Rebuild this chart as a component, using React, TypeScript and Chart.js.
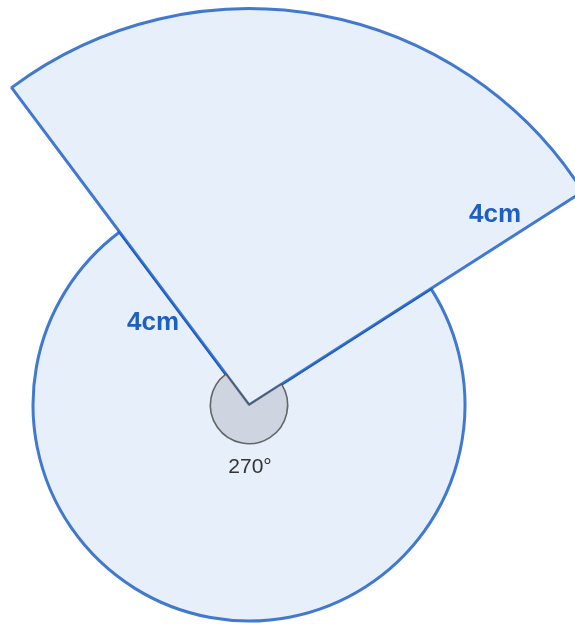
import React, { useEffect, useRef } from "react";
import { Chart, registerables } from "chart.js";

Chart.register(...registerables);

// Parts of the figure: the circle part (labelled 270°) and the sector pulled out
const parts = ["circle", "sector"];
// Drawn radii (same scale units; sector drawn larger than the circle)
const partRadii = [2.18, 4];
// Angles of the parts in degrees, as drawn
const partAngles = [265.8, 94.2];
// Angle marker radius (small gray arc at the centre)
const markerRadii = [0.39, 0];
// Starting angle (degrees clockwise from 12 o'clock)
const startAngleDeg = 57.4;
// Texts
const radiusLabel = "4cm";
const angleLabel = "270°";

const labelsPlugin = {
  id: "labelsPlugin",
  afterDatasetsDraw(chart: any) {
    const s = chart.scales.r;
    const cx = s.xCenter;
    const cy = s.yCenter;
    const ctx = chart.ctx;
    ctx.save();
    ctx.textAlign = "center";
    ctx.textBaseline = "middle";
    ctx.fillStyle = "#1f5fbf";
    ctx.font = "bold 26px 'Liberation Sans', Arial, sans-serif";
    ctx.fillText(radiusLabel, cx - 96, cy - 82);
    ctx.fillText(radiusLabel, cx + 246, cy - 190);
    ctx.fillStyle = "#333333";
    ctx.font = "21px 'Liberation Sans', Arial, sans-serif";
    ctx.fillText(angleLabel, cx + 1, cy + 62);
    ctx.restore();
  },
};

export default function App() {
  const ref = useRef<HTMLCanvasElement | null>(null);
  useEffect(() => {
    if (!ref.current) return;
    const chart = new Chart(ref.current, {
      type: "polarArea",
      data: {
        labels: parts,
        datasets: [
          {
            data: markerRadii,
            angle: partAngles as any,
            backgroundColor: "rgba(205,211,222,0.95)",
            borderColor: "rgba(80,80,80,0.85)",
            borderWidth: 1.6,
          } as any,
          {
            data: partRadii,
            angle: partAngles as any,
            backgroundColor: "rgb(230,239,250)",
            borderColor: "rgba(15,85,195,0.78)",
            borderWidth: 3,
          } as any,
        ],
      },
      options: {
        responsive: false,
        animation: false,
        layout: { padding: { left: 33, right: 110, top: 189, bottom: 3 } },
        plugins: {
          legend: { display: false },
          tooltip: { enabled: false },
          title: { display: false },
        },
        scales: {
          r: {
            min: 0,
            max: 2.18,
            startAngle: startAngleDeg,
            grid: { display: false },
            angleLines: { display: false },
            ticks: { display: false },
            pointLabels: { display: false },
          },
        },
      } as any,
      plugins: [labelsPlugin],
    });
    return () => chart.destroy();
  }, []);
  return (
    <div style={{ position: "absolute", left: 0, top: 0, width: 575, height: 624, background: "#fff" }}>
      <canvas ref={ref} width={575} height={624} style={{ display: "block" }} />
    </div>
  );
}
